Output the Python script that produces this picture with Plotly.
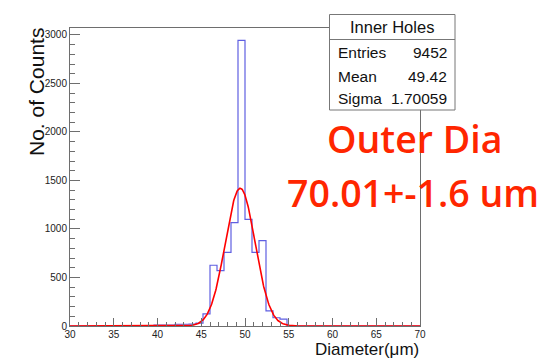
import plotly.graph_objects as go
import math

# ---- data ----
BIN_LOW = 30.0
BIN_WIDTH = 0.8
COUNTS = [0, 0, 0, 0, 0, 0, 0, 0, 0, 0, 0, 0,
          10, 10, 10, 18, 18, 20, 30, 124, 626, 571, 760, 1065, 2945,
          1100, 760, 880, 155, 85, 70,
          0, 0, 0, 0, 0, 0, 0, 0, 0, 0, 0, 0, 0, 0, 0, 0, 0, 0, 0]
FIT_AMP = 1420.0
FIT_MEAN = 49.45
FIT_SIGMA = 1.70
STATS_TITLE = "Inner Holes"
STATS_LABELS = ["Entries", "Mean", "Sigma"]
STATS_VALUES = ["9452", "49.42", "1.70059"]
X_TICKS = [30, 35, 40, 45, 50, 55, 60, 65, 70]
Y_TICKS = [0, 500, 1000, 1500, 2000, 2500, 3000]
X_TITLE = "Diameter(\u03bcm)"
Y_TITLE = "No. of Counts"
NOTE_LINES = ["Outer Dia", "70.01+-1.6 um"]

edges = [BIN_LOW + BIN_WIDTH * k for k in range(len(COUNTS) + 1)]
step_y = COUNTS + [COUNTS[-1]]

# fit curve from fit parameters
fx = [30 + 0.05 * i for i in range(801)]
fy = [FIT_AMP * math.exp(-0.5 * ((v - FIT_MEAN) / FIT_SIGMA) ** 2) for v in fx]

W, H = 544, 361
L, R, T, B = 70, 420, 28, 326


def px(xp):
    return (xp - L) / (R - L)


def py(yp):
    return (B - yp) / (B - T)


fig = go.Figure()
fig.add_trace(go.Scatter(x=edges, y=step_y, mode="lines",
                         line=dict(shape="hv", color="rgb(95,95,225)", width=1.2),
                         hoverinfo="skip", showlegend=False))
fig.add_trace(go.Scatter(x=fx, y=fy, mode="lines",
                         line=dict(color="rgb(255,0,0)", width=1.6),
                         hoverinfo="skip", showlegend=False))

tickfont = dict(family="Liberation Sans, Arial", size=10, color="#222")
axcol = "#6e6e6e"

fig.update_xaxes(range=[30, 70], tickvals=X_TICKS, ticktext=[str(v) for v in X_TICKS],
                 ticks="inside", ticklen=8, tickwidth=1, tickcolor=axcol,
                 minor=dict(dtick=1, ticks="inside", ticklen=4, tickcolor=axcol, showgrid=False),
                 showline=True, linecolor=axcol, linewidth=1, mirror=True,
                 showgrid=False, zeroline=False, tickfont=tickfont, ticklabelstandoff=-1)
fig.update_yaxes(range=[0, 3072], tickvals=Y_TICKS, ticktext=[str(v) for v in Y_TICKS],
                 ticks="inside", ticklen=10, tickwidth=1, tickcolor=axcol,
                 minor=dict(dtick=100, ticks="inside", ticklen=5, tickcolor=axcol, showgrid=False),
                 showline=True, linecolor=axcol, linewidth=1, mirror=True,
                 showgrid=False, zeroline=False, tickfont=tickfont)

shapes = []
# stats box
bx0, bx1, by0, by1 = 329.5, 455, 14.5, 110
shapes.append(dict(type="rect", xref="paper", yref="paper",
                   x0=px(bx0), x1=px(bx1), y0=py(by1), y1=py(by0),
                   line=dict(color="#777", width=1), fillcolor="white", layer="above"))
shapes.append(dict(type="line", xref="paper", yref="paper",
                   x0=px(bx0), x1=px(bx1), y0=py(39.5), y1=py(39.5),
                   line=dict(color="#777", width=1), layer="above"))

ann = []
sfont = dict(family="Liberation Sans, Arial", size=15.5, color="#111")
ann.append(dict(text=STATS_TITLE, x=px(391.5), y=py(27.5), xref="paper", yref="paper",
                xanchor="center", yanchor="middle", showarrow=False,
                font=dict(family=sfont["family"], size=16.5, color="#111")))
row_y = [52, 76.5, 98]
for lab, val, yy in zip(STATS_LABELS, STATS_VALUES, row_y):
    ann.append(dict(text=lab, x=px(335.5), y=py(yy), xref="paper", yref="paper",
                    xanchor="left", yanchor="middle", showarrow=False, font=sfont))
    ann.append(dict(text=val, x=px(448.5), y=py(yy), xref="paper", yref="paper",
                    xanchor="right", yanchor="middle", showarrow=False, font=sfont))

ann.append(dict(text=Y_TITLE, x=px(36), y=py(92), xref="paper", yref="paper",
                xanchor="center", yanchor="middle", textangle=-90, showarrow=False,
                font=dict(family="Liberation Sans, Arial", size=21, color="#111")))
ann.append(dict(text=X_TITLE, x=px(421), y=py(349), xref="paper", yref="paper",
                xanchor="right", yanchor="middle", showarrow=False,
                font=dict(family="Liberation Sans, Arial", size=17, color="#111")))

nfont = dict(family="Open Sans", size=37.5, color="#ff2600", weight=600)
ann.append(dict(text=NOTE_LINES[0], x=px(414), y=py(138), xref="paper", yref="paper",
                xanchor="center", yanchor="middle", showarrow=False, font=nfont))
ann.append(dict(text=NOTE_LINES[1], x=px(413), y=py(192), xref="paper", yref="paper",
                xanchor="center", yanchor="middle", showarrow=False, font=nfont))

fig.update_layout(width=W, height=H, margin=dict(l=L, r=W - R, t=T, b=H - B, pad=0),
                  paper_bgcolor="white", plot_bgcolor="white",
                  shapes=shapes, annotations=ann, showlegend=False)

fig.write_html("out.html")
